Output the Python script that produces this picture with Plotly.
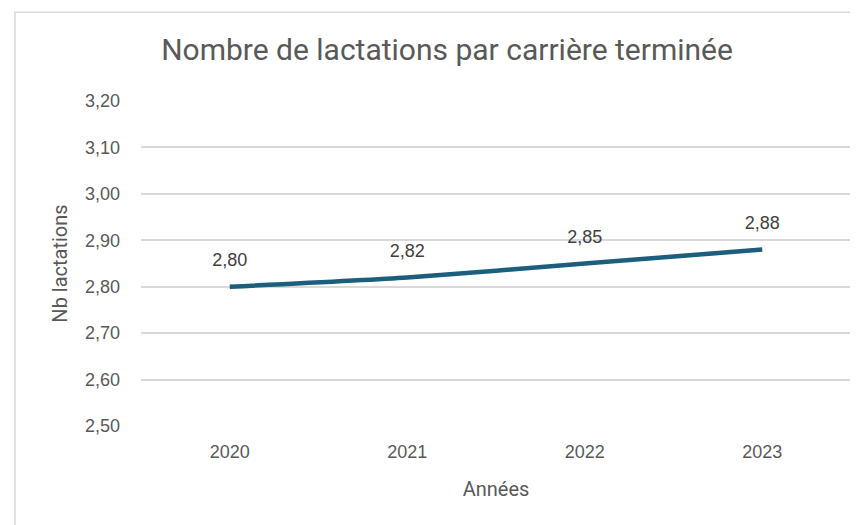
import plotly.graph_objects as go

# Data
years = ["2020", "2021", "2022", "2023"]
nb_lactations = [2.80, 2.82, 2.85, 2.88]
y_ticks = [2.50, 2.60, 2.70, 2.80, 2.90, 3.00, 3.10, 3.20]


def fr(v):
    return f"{v:.2f}".replace(".", ",")


gray = "#595959"
line_color = "#1B5E7E"
tick_font = "Liberation Sans, Arial"
title_font = "Roboto"

fig = go.Figure()

fig.add_trace(
    go.Scatter(x=years,
               y=nb_lactations,
               mode="lines",
               line=dict(color=line_color, width=4.5, shape="spline", smoothing=0.6),
               hoverinfo="skip",
               showlegend=False))

# Data labels above each point (invisible markers push text up)
fig.add_trace(
    go.Scatter(x=years,
               y=nb_lactations,
               mode="markers+text",
               text=[fr(v) for v in nb_lactations],
               textposition="top center",
               textfont=dict(size=18, color="#404040", family=tick_font),
               marker=dict(size=24, color="rgba(0,0,0,0)"),
               hoverinfo="skip",
               showlegend=False))

# Chart area border
fig.add_shape(type="rect", xref="paper", yref="paper",
              x0=-0.1775, x1=1.2, y0=-0.5, y1=1.273,
              line=dict(color="#D9D9D9", width=1.5), layer="below")

# page body has an 8px margin, so the figure is 8px smaller
fig.update_layout(
    width=850,
    height=517,
    paper_bgcolor="white",
    plot_bgcolor="white",
    margin=dict(l=133, r=7, t=93, b=99),
    title=dict(text="Nombre de lactations par carrière terminée",
               x=0.5165, xanchor="center", y=0.919, yanchor="middle",
               font=dict(size=30, color=gray, family=title_font)),
    font=dict(family=tick_font, color=gray),
)

fig.update_xaxes(
    type="category",
    range=[-0.5, 3.5],
    showgrid=False,
    showline=False,
    ticks="",
    ticklabelstandoff=13,
    tickfont=dict(size=18, color=gray),
    title=dict(text="Années", font=dict(size=20, color=gray, family=title_font),
               standoff=20),
)

fig.update_yaxes(
    range=[2.50, 3.20],
    tickvals=y_ticks,
    ticktext=[fr(v) for v in y_ticks],
    showgrid=True,
    gridcolor="#D9D9D9",
    gridwidth=1.5,
    zeroline=False,
    showline=False,
    ticks="",
    ticklabelstandoff=20,
    tickfont=dict(size=18, color=gray),
    title=dict(text="Nb lactations", font=dict(size=20, color=gray, family=title_font),
               standoff=11),
)

fig.write_html("out.html")
